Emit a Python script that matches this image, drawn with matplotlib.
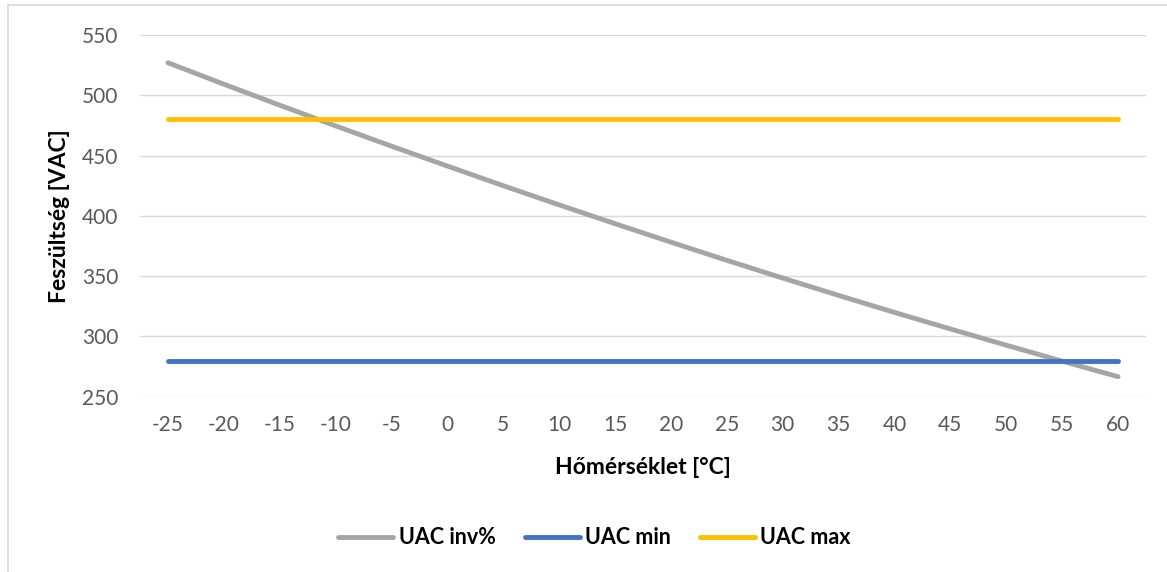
import matplotlib.pyplot as plt
from matplotlib.lines import Line2D

plt.rcParams['font.family'] = ['Lato', 'DejaVu Sans']

# temperature steps and voltages
temps = [-25, -20, -15, -10, -5, 0, 5, 10, 15, 20, 25, 30, 35, 40, 45, 50, 55, 60]
uac_inv = [527.0, 509.2, 491.8, 474.6, 457.8, 441.3, 425.0, 409.1, 393.5,
           378.2, 363.1, 348.4, 334.0, 319.9, 306.2, 292.7, 279.5, 266.6]
uac_min = [280, 280, 280, 280, 280, 280, 280, 280, 280,
           280, 280, 280, 280, 280, 280, 280, 280, 280]
uac_max = [480, 480, 480, 480, 480, 480, 480, 480, 480,
           480, 480, 480, 480, 480, 480, 480, 480, 480]
yticks = [250, 300, 350, 400, 450, 500, 550]

W, H = 1167, 572
fig = plt.figure(figsize=(W / 100, H / 100), dpi=100)
ax = fig.add_axes([140 / W, 1 - 396.7 / H, 1006 / W, 361.7 / H])

x = range(len(temps))
ax.plot(x, uac_inv, color='#A5A5A5', lw=3.5, solid_capstyle='round', label='UAC inv%', zorder=3)
ax.plot(x, uac_min, color='#4472C4', lw=3.5, solid_capstyle='round', label='UAC min', zorder=3)
ax.plot(x, uac_max, color='#FFC000', lw=3.5, solid_capstyle='round', label='UAC max', zorder=3)

ax.set_xlim(-0.5, len(temps) - 0.5)
ax.set_ylim(250, 550)
ax.set_xticks(list(x))
ax.set_xticklabels([str(t) for t in temps])
ax.set_yticks(yticks)
ax.grid(axis='y', color='#D9D9D9', lw=1.0)
ax.set_axisbelow(True)
for s in ax.spines.values():
    s.set_visible(False)
ax.tick_params(axis='both', length=0, labelsize=15, labelcolor='#595959')
ax.tick_params(axis='y', pad=15.5)
ax.tick_params(axis='x', pad=13)

ax.set_xlabel('Hőmérséklet [°C]', fontsize=16.5, fontweight='bold', color='black')
ax.xaxis.set_label_coords(0.5, (396.7 - 467) / 361.7)
ax.xaxis.label.set_va('center')
ax.set_ylabel('Feszültség [VAC]', fontsize=16.5, fontweight='bold', color='black')
ax.yaxis.set_label_coords((59 - 140) / 1006, 0.5)
ax.yaxis.label.set_va('center')

ax.legend(loc='center', bbox_to_anchor=(594.5 / W, 1 - 538 / H), bbox_transform=fig.transFigure,
          ncol=3, frameon=False, prop={'weight': 'bold', 'size': 15.5},
          handlelength=2.55, handletextpad=0.25, columnspacing=1.35)

# chart frame (top and left edges)
fig.add_artist(Line2D([7.5 / W, 1], [1 - 5 / H, 1 - 5 / H], transform=fig.transFigure, color='#D9D9D9', lw=1.2))
fig.add_artist(Line2D([7.5 / W, 7.5 / W], [0, 1 - 5 / H], transform=fig.transFigure, color='#D9D9D9', lw=1.2))

fig.savefig('out.png', dpi=100)
